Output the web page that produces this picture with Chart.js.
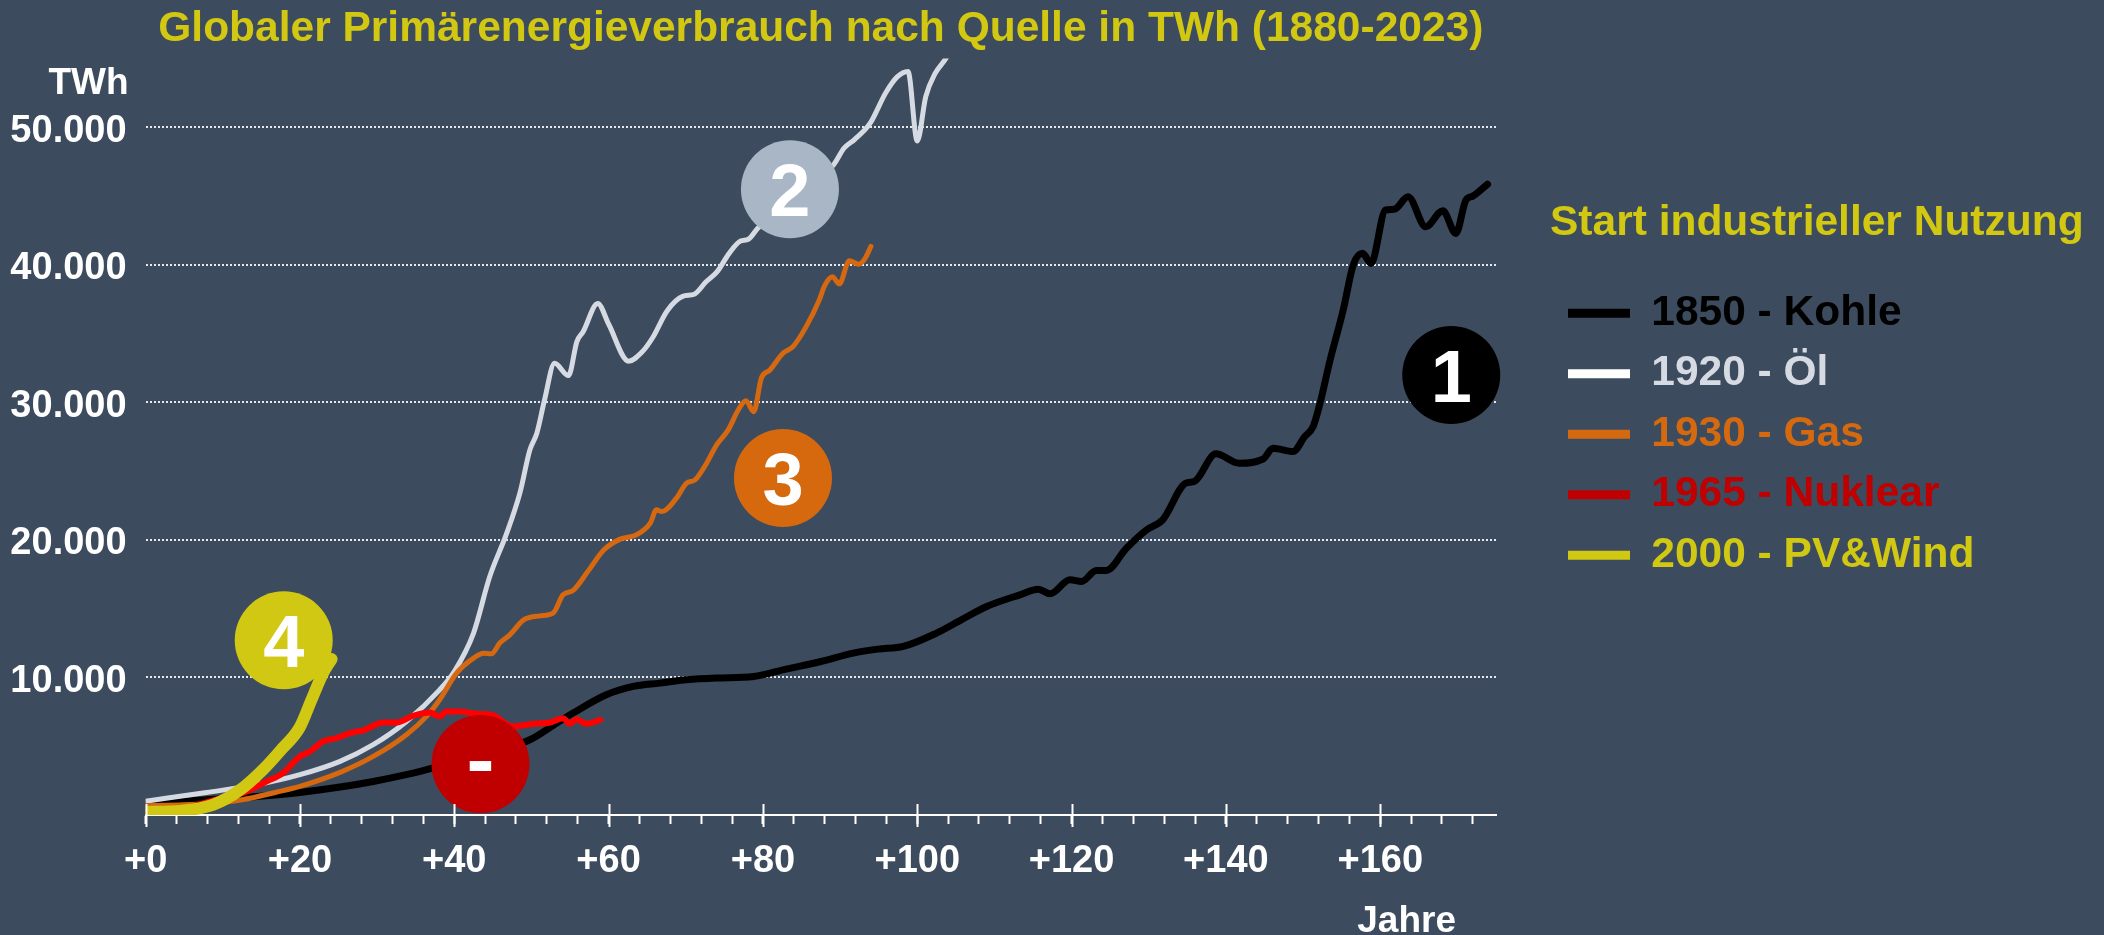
<!DOCTYPE html>
<html lang="de">
<head>
<meta charset="utf-8">
<title>Globaler Primärenergieverbrauch nach Quelle</title>
<script src="https://cdn.jsdelivr.net/npm/chart.js@4.4.1/dist/chart.umd.min.js"></script>
<style>
  html, body { margin: 0; padding: 0; background: #3d4b5e; }
  #wrap { width: 2104px; height: 935px; }
</style>
</head>
<body>
<div id="wrap"><canvas id="energy-chart" width="2104" height="935"></canvas></div>
<script>

// Jahre seit Start der industriellen Nutzung (x) und Verbrauch in TWh (y)
var kohle_years = [0, 4, 7.9, 14.4, 20, 25.2, 29.5, 33.8, 37.3, 40, 45, 49.8, 53.3, 55.4, 59.7, 63.2, 66.6, 70.1, 74, 78.8, 83, 87.5, 91.7, 94.9, 98.2, 102.5, 105.7, 109, 113.3, 115.7, 117.2, 119.8, 121.3, 123.2, 124.5, 127.1, 129.7, 131.8, 134.8, 135.9, 138.7, 141.7, 144.8, 146.1, 148.7, 150.2, 151.3, 152.2, 153.4, 155.2, 156.5, 157.7, 158.8, 160.7, 161.8, 163.6, 165.9, 168.1, 169.8, 171.1, 172, 173.9];
var kohle_twh = [700, 950, 1110, 1350, 1640, 2030, 2440, 2930, 3420, 3900, 4600, 5470, 6690, 7410, 8740, 9350, 9590, 9830, 9960, 10070, 10610, 11160, 11770, 12060, 12260, 13230, 14190, 15160, 16010, 16420, 16080, 17100, 16980, 17780, 17780, 19400, 20730, 21460, 24130, 24250, 26260, 25580, 25870, 26670, 26430, 27510, 28240, 29940, 32850, 36720, 39990, 40840, 40110, 43990, 44040, 44950, 42770, 43940, 42290, 44710, 45000, 45860];

var oel_years = [0, 7.9, 14.4, 20, 25.2, 29.5, 33.8, 38.1, 40, 42.5, 44.6, 46.8, 48.5, 49.8, 50.7, 51.7, 53.0, 54.8, 55.9, 56.7, 58.6, 60.0, 62.6, 64.3, 65.7, 67.6, 69.6, 71.1, 72.6, 74.1, 75.6, 77.1, 78.1, 79.3, 89.2, 90.5, 91.9, 93.9, 95.9, 97.4, 98.8, 100.0, 101.1, 102.3, 103.8, 104.3];
var oel_twh = [1000, 1640, 2200, 2930, 3900, 5110, 6800, 9100, 10430, 13230, 17340, 20490, 23400, 26550, 27760, 30180, 32850, 31950, 34440, 35140, 37200, 35700, 33000, 33640, 34700, 36670, 37710, 37870, 38750, 39530, 40820, 41730, 41860, 42640, 47310, 48480, 49130, 50300, 52500, 53670, 54060, 49000, 52240, 53900, 55100, 55700];

var gas_years = [0, 7.9, 12.5, 16.8, 20, 25.2, 29.5, 33.8, 36.4, 38.1, 40.3, 42.5, 43.8, 44.8, 45.9, 47.2, 49.0, 51.1, 52.8, 54.1, 55.4, 57.3, 59.4, 61.5, 63.6, 65.4, 66.2, 66.9, 68.8, 70.1, 71.2, 72.7, 74.0, 75.5, 76.8, 77.8, 78.8, 79.8, 80.9, 82.6, 83.9, 85.6, 87.3, 88.0, 89.0, 89.9, 91.2, 92.4, 93.2, 94.0];
var gas_twh = [680, 820, 1110, 1640, 2080, 3100, 4260, 5840, 7170, 8380, 10320, 11410, 11770, 11720, 12500, 13100, 14190, 14480, 14680, 16010, 16330, 17700, 19280, 20060, 20370, 21220, 22190, 22070, 23040, 24130, 24370, 25580, 26910, 28000, 29450, 30130, 29330, 31760, 32360, 33570, 34060, 35510, 37450, 38490, 39140, 38620, 40300, 40050, 40440, 41340];

var nuklear_years = [0, 5, 9, 13.1, 15.7, 17.8, 20.0, 21.3, 23.0, 24.7, 26.5, 28.2, 30.8, 32.5, 34.7, 36.8, 38.1, 39.0, 40.7, 42.9, 44.8, 47.6, 50.2, 52.4, 54.1, 55.0, 55.8, 57.1, 58.9];
var nuklear_twh = [200, 500, 1100, 1720, 2440, 3050, 4260, 4620, 5350, 5590, 5960, 6150, 6730, 6730, 7220, 7460, 7170, 7530, 7530, 7360, 7290, 6440, 6630, 6730, 7040, 6630, 6970, 6630, 6920];

var pv_years = [0, 4.5, 8.8, 12.2, 15.2, 17.5, 20.0, 21.5, 23.0, 24.1];
var pv_twh = [220, 300, 750, 1800, 3290, 4700, 6400, 8380, 10320, 11340];

var source_labels = ['1850 - Kohle', '1920 - Öl', '1930 - Gas', '1965 - Nuklear', '2000 - PV&Wind'];
var y_tick_values = [10000, 20000, 30000, 40000, 50000];

// Markierungen (Kreise mit Nummer), Lage in Achsenwerten
var badge_texts = ['1', '2', '3', '4', '-'];
var badge_years = [169.2, 83.5, 82.6, 17.9, 43.4];
var badge_twh = [32000, 45500, 24500, 12700, 3700];

var line_colors = ['#000000', '#d6dbe3', '#d6690f', '#ff0000', '#d0c812'];
var legend_line_colors = ['#000000', '#ffffff', '#d4690f', '#c00000', '#d0c812'];
var legend_text_colors = ['#000000', '#d6dbe3', '#d4690f', '#c00000', '#d0c812'];
var badge_colors = ['#000000', '#a9b6c6', '#d6690e', '#d0c812', '#c00000'];
var yellow = '#d2c812';

function toPoints(xs, ys) {
  return xs.map(function (x, i) { return { x: x, y: ys[i] }; });
}

function fmtThousands(v) {
  return String(v).replace(/\B(?=(\d{3})+(?!\d))/g, '.');
}

Chart.defaults.font.family = '"Liberation Sans", Arial, sans-serif';

const series = [
  toPoints(kohle_years, kohle_twh),
  toPoints(oel_years, oel_twh),
  toPoints(gas_years, gas_twh),
  toPoints(nuklear_years, nuklear_twh),
  toPoints(pv_years, pv_twh)
];
const widths = [7, 5, 5, 6, 12];
const drawOrder = [5, 4, 3, 2, 1];

const datasets = series.map(function (pts, i) {
  return {
    label: source_labels[i],
    data: pts,
    borderColor: line_colors[i],
    borderWidth: widths[i],
    pointRadius: 0,
    fill: false,
    cubicInterpolationMode: 'monotone',
    borderCapStyle: 'round',
    borderJoinStyle: 'round',
    order: drawOrder[i]
  };
});

datasets.push({
  label: 'badges',
  data: toPoints(badge_years, badge_twh),
  showLine: false,
  pointRadius: 49,
  pointHoverRadius: 49,
  pointBorderWidth: 0,
  pointBackgroundColor: badge_colors,
  pointBorderColor: badge_colors,
  clip: false,
  order: 0
});

const bgPlugin = {
  id: 'bg',
  beforeDraw(chart) {
    const c = chart.ctx;
    c.save();
    c.fillStyle = '#3d4b5e';
    c.fillRect(0, 0, chart.width, chart.height);
    c.restore();
  }
};

const extrasPlugin = {
  id: 'extras',
  afterInit(chart) {
    // legend box keeps a fixed width so the plot ends where the axis ends
    const lg = chart.legend;
    const origFit = lg.fit;
    lg.fit = function () {
      origFit.call(this);
      this.width = 554;
    };
  },
  afterDatasetsDraw(chart) {
    const c = chart.ctx;
    const meta = chart.getDatasetMeta(5);
    c.save();
    c.fillStyle = '#ffffff';
    c.textAlign = 'center';
    c.textBaseline = 'alphabetic';
    meta.data.forEach(function (pt, i) {
      const dash = badge_texts[i] === '-';
      c.font = 'bold ' + (dash ? 84 : 74) + 'px "Liberation Sans", Arial, sans-serif';
      c.fillText(badge_texts[i], pt.x, pt.y + (dash ? 24 : 27));
    });
    c.restore();
  },
  afterDraw(chart) {
    const c = chart.ctx;
    const xs = chart.scales.x;
    const ys = chart.scales.y;
    c.save();
    // long marks at every 20 years
    c.strokeStyle = '#ffffff';
    c.lineWidth = 2;
    xs.ticks.forEach(function (t) {
      if (t.value % 20 === 0) {
        const px = Math.round(xs.getPixelForValue(t.value)) + 0.5;
        c.beginPath();
        c.moveTo(px, xs.top - 11);
        c.lineTo(px, xs.top + 12);
        c.stroke();
      }
    });
    c.fillStyle = '#ffffff';
    c.font = 'bold 37px "Liberation Sans", Arial, sans-serif';
    c.textAlign = 'right';
    c.textBaseline = 'middle';
    c.fillText('TWh', ys.right - 17, chart.chartArea.top + 25);
    c.textBaseline = 'alphabetic';
    c.fillText('Jahre', xs.right - 40, chart.height - 3);
    c.restore();
  }
};

const config_energy = {
  type: 'line',
  data: { datasets: datasets },
  options: {
    responsive: false,
    devicePixelRatio: 1,
    animation: false,
    events: [],
    layout: { padding: 0 },
    scales: {
      x: {
        type: 'linear',
        min: 0,
        max: 175,
        grid: { display: true, drawOnChartArea: false, drawTicks: true, tickLength: 9, tickColor: '#ffffff', tickWidth: 2 },
        border: { display: true, color: '#ffffff', width: 2 },
        ticks: {
          stepSize: 4,
          autoSkip: false,
          maxRotation: 0,
          includeBounds: false,
          padding: 15,
          color: '#ffffff',
          font: { size: 38, weight: 'bold' },
          callback: function (v) { return v % 20 === 0 ? '+' + v : ''; }
        },
        afterFit: function (s) { s.height = 120; }
      },
      y: {
        type: 'linear',
        min: 0,
        max: 55000,
        afterBuildTicks: function (s) { s.ticks = y_tick_values.map(function (v) { return { value: v }; }); },
        grid: { color: '#e6eaef', lineWidth: 2, drawTicks: false },
        border: { display: false, dash: [2, 2] },
        ticks: {
          padding: 19,
          labelOffset: 4,
          color: '#ffffff',
          font: { size: 38, weight: 'bold' },
          callback: function (v) { return fmtThousands(v); }
        },
        afterFit: function (s) { s.width = 145.6; }
      },
      yGap: {
        type: 'linear',
        position: 'right',
        display: true,
        grid: { display: false },
        border: { display: false },
        ticks: { display: false },
        afterFit: function (s) { s.width = 54; }
      }
    },
    plugins: {
      tooltip: { enabled: false },
      title: {
        display: true,
        text: 'Globaler Primärenergieverbrauch nach Quelle in TWh (1880-2023)',
        color: yellow,
        fullSize: false,
        font: { size: 42.5, weight: 'bold', lineHeight: 1.2 },
        padding: { top: 4, bottom: 3.6 }
      },
      legend: {
        position: 'right',
        align: 'start',
        title: {
          display: true,
          text: 'Start industrieller Nutzung',
          color: yellow,
          position: 'start',
          font: { size: 42.5, weight: 'bold', lineHeight: 1.2 },
          padding: { top: 202, bottom: 21 }
        },
        labels: {
          boxWidth: 62,
          boxHeight: 9,
          padding: 18,
          font: { size: 42.5, weight: 'bold' },
          generateLabels: function () {
            return source_labels.map(function (t, i) {
              return {
                text: t,
                fillStyle: legend_line_colors[i],
                strokeStyle: legend_line_colors[i],
                lineWidth: 0,
                fontColor: legend_text_colors[i],
                hidden: false,
                datasetIndex: i
              };
            });
          }
        }
      }
    }
  },
  plugins: [bgPlugin, extrasPlugin]
};

const energy_chart = new Chart(
  document.getElementById('energy-chart'),
  config_energy
);
</script>
</body>
</html>
